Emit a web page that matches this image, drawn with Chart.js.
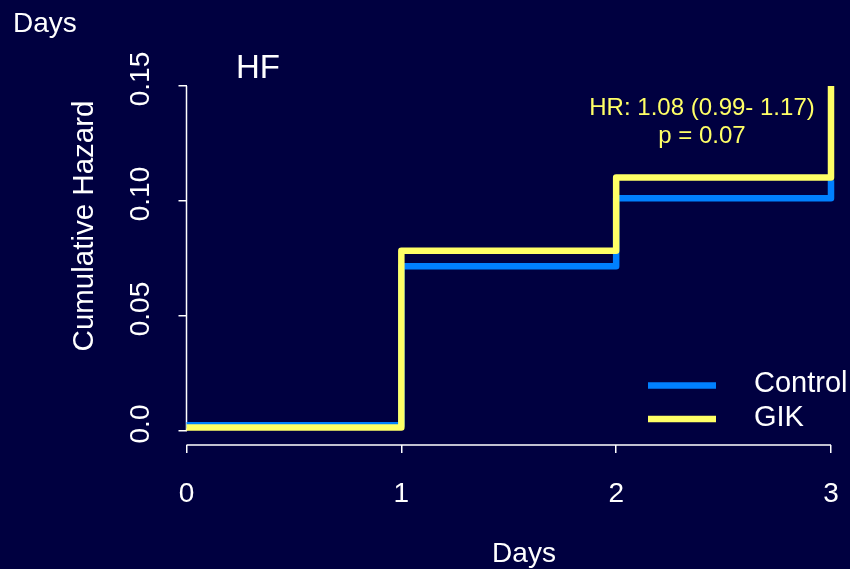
<!DOCTYPE html>
<html>
<head>
<meta charset="utf-8">
<script src="https://cdn.jsdelivr.net/npm/chart.js@4"></script>
<style>
  html, body { margin: 0; padding: 0; background: #000040; }
  #wrap { width: 850px; height: 569px; }
</style>
</head>
<body>
<div id="wrap"><canvas id="c" width="850" height="569"></canvas></div>
<script>
// ---- data ----
const days = [0, 1, 2, 3];
const xTickLabels = ['0', '1', '2', '3'];
const controlHazard = [0.0025, 0.0716, 0.1012, 0.109];
const gikHazard = [0.0015, 0.0784, 0.1102, 0.150];
const yTicks = [0, 0.05, 0.10, 0.15];
const yTickLabels = ['0.0', '0.05', '0.10', '0.15'];
const seriesNames = ['Control', 'GIK'];
const seriesColors = ['#0080FF', '#FFFF66'];
const panelTitle = 'HF';
const statLines = ['HR: 1.08 (0.99- 1.17)', 'p = 0.07'];
const xTitle = 'Days';
const yTitle = 'Cumulative Hazard';
const cornerLabel = 'Days';

const FONT = '"Liberation Sans", Arial, Helvetica, sans-serif';
const BG = '#000040';
const FG = '#FFFFFF';

const toPts = (xs, ys) => xs.map((x, i) => ({ x: x, y: ys[i] }));

const decor = {
  id: 'decor',
  beforeDraw(chart) {
    const ctx = chart.ctx;
    ctx.save();
    ctx.fillStyle = BG;
    ctx.fillRect(0, 0, chart.width, chart.height);
    ctx.restore();
  },
  beforeDatasetsDraw(chart) {
    const ctx = chart.ctx;
    const xs = chart.scales.x, ys = chart.scales.y;
    const ca = chart.chartArea;
    ctx.save();
    ctx.strokeStyle = FG;
    ctx.lineWidth = 1.5;
    ctx.beginPath();
    const yl = ca.left;
    ctx.moveTo(yl, ys.getPixelForValue(yTicks[yTicks.length - 1]));
    ctx.lineTo(yl, ys.getPixelForValue(yTicks[0]));
    ctx.moveTo(xs.getPixelForValue(days[0]), ca.bottom);
    ctx.lineTo(xs.getPixelForValue(days[days.length - 1]), ca.bottom);
    ctx.stroke();
    ctx.restore();
  },
  afterDraw(chart) {
    const ctx = chart.ctx;
    const xs = chart.scales.x, ys = chart.scales.y;
    ctx.save();
    ctx.fillStyle = FG;
    ctx.font = '28px ' + FONT;
    ctx.textAlign = 'center';
    ctx.textBaseline = 'middle';
    yTicks.forEach((v, i) => {
      const py = ys.getPixelForValue(v) - 7;
      ctx.save();
      ctx.translate(141, py);
      ctx.rotate(-Math.PI / 2);
      ctx.fillText(yTickLabels[i], 0, 0);
      ctx.restore();
    });
    ctx.save();
    ctx.font = '29.5px ' + FONT;
    ctx.translate(85, 226);
    ctx.rotate(-Math.PI / 2);
    ctx.fillText(yTitle, 0, 0);
    ctx.restore();
    ctx.textBaseline = 'alphabetic';
    ctx.font = '28px ' + FONT;
    ctx.fillText(xTitle, 524, 562);
    ctx.textAlign = 'left';
    ctx.fillText(cornerLabel, 13, 32);
    ctx.font = '33px ' + FONT;
    ctx.fillText(panelTitle, 236, 78);
    ctx.fillStyle = seriesColors[1];
    ctx.font = '24px ' + FONT;
    ctx.textAlign = 'center';
    ctx.fillText(statLines[0], 702, 115);
    ctx.fillText(statLines[1], 702, 143);
    const legY = [385.5, 419];
    chart.data.datasets.forEach((ds, i) => {
      ctx.strokeStyle = ds.borderColor;
      ctx.lineWidth = 6.5;
      ctx.beginPath();
      ctx.moveTo(648, legY[i]);
      ctx.lineTo(716, legY[i]);
      ctx.stroke();
      ctx.fillStyle = FG;
      ctx.font = '29px ' + FONT;
      ctx.textAlign = 'left';
      ctx.textBaseline = 'middle';
      ctx.fillText(ds.label, 754, legY[i] - 1.5);
    });
    ctx.restore();
  }
};

new Chart(document.getElementById('c'), {
  type: 'line',
  data: {
    datasets: [
      {
        label: seriesNames[0],
        data: toPts(days, controlHazard),
        borderColor: seriesColors[0],
        backgroundColor: seriesColors[0],
        borderWidth: 6.5,
        stepped: 'before',
        pointRadius: 0,
        borderJoinStyle: 'round',
        clip: false,
        order: 1
      },
      {
        label: seriesNames[1],
        data: toPts(days, gikHazard),
        borderColor: seriesColors[1],
        backgroundColor: seriesColors[1],
        borderWidth: 6.5,
        stepped: 'before',
        pointRadius: 0,
        borderJoinStyle: 'round',
        clip: false,
        order: 0
      }
    ]
  },
  options: {
    responsive: false,
    animation: false,
    devicePixelRatio: 1,
    layout: { padding: { top: 86, right: 19, bottom: 0, left: 0 } },
    plugins: { legend: { display: false }, tooltip: { enabled: false }, title: { display: false } },
    scales: {
      x: {
        type: 'linear',
        min: days[0],
        max: days[days.length - 1],
        afterBuildTicks: (s) => { s.ticks = days.map(v => ({ value: v })); },
        afterFit: (s) => { s.height = 124; s.paddingLeft = 0; s.paddingRight = 0; },
        ticks: {
          color: FG,
          font: { family: FONT, size: 28 },
          padding: 24,
          maxRotation: 0,
          autoSkip: false,
          callback: (v) => xTickLabels[days.indexOf(v)]
        },
        grid: { drawOnChartArea: false, drawTicks: true, tickLength: 8, color: FG, lineWidth: 1.5 },
        border: { display: false }
      },
      y: {
        type: 'linear',
        min: -0.006087,
        max: 0.15,
        afterBuildTicks: (s) => { s.ticks = yTicks.map(v => ({ value: v })); },
        afterFit: (s) => { s.width = 186.5; s.paddingTop = 0; s.paddingBottom = 0; },
        ticks: { display: false },
        grid: { drawOnChartArea: false, drawTicks: true, tickLength: 8, color: FG, lineWidth: 1.5 },
        border: { display: false }
      }
    }
  },
  plugins: [decor]
});
</script>
</body>
</html>
